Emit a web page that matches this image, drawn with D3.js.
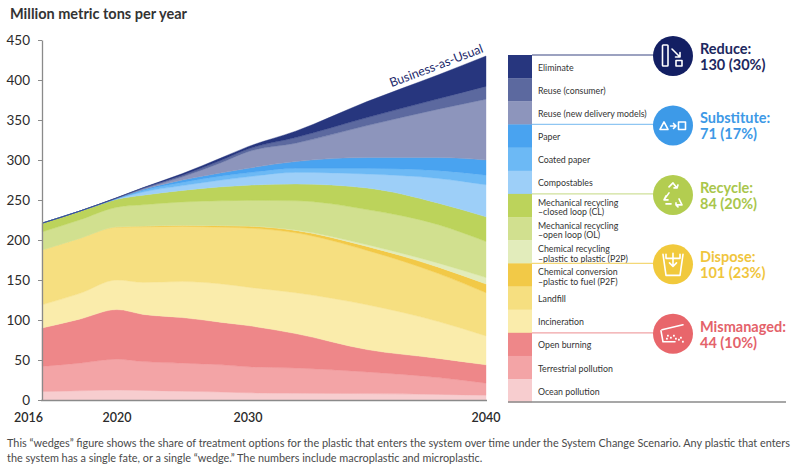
<!DOCTYPE html>
<html>
<head>
<meta charset="utf-8">
<script src="https://cdn.jsdelivr.net/npm/d3@7"></script>
<style>
  body { margin: 0; background: #fff; }
  svg { display: block; font-family: Lato, "Open Sans", sans-serif; }
</style>
</head>
<body>
<svg id="chart" width="800" height="471"></svg>
<script>
// years (axis is not evenly spaced in the original)
var years = [2016, 2018, 2020, 2022, 2025, 2028, 2030, 2032, 2035, 2038, 2040];

// million metric tons per year, per wedge (bottom to top)
var oceanPollution      = [10.5, 11.5, 12.5, 12, 11, 10, 9, 8.5, 8, 7, 6];
var terrestrialPollution= [31.5, 34.5, 38.5, 36, 35, 34, 32.5, 31.5, 27, 21, 15];
var openBurning         = [48, 55, 62, 59, 57, 53, 51.5, 43, 28, 24, 23];
var incineration        = [29, 32, 37, 40, 45, 48, 48, 51, 56, 46, 36];
var landfill            = [68.5, 69, 66, 69.5, 69, 71, 74, 75, 68, 60, 54];
var chemP2F             = [0, 0, 0.5, 1, 1.5, 2, 2.5, 3, 5, 8, 11];
var chemP2P             = [0, 0, 0, 0, 0, 0, 0, 0.5, 2, 5, 8];
var mechOL              = [22.5, 23, 24.5, 26.5, 29, 31, 32, 36.5, 44, 48, 45];
var mechCL              = [11, 11, 10, 12, 14.5, 17.5, 19, 21, 27, 27, 31];
var compostables        = [0, 0, 0.5, 4, 6, 8.5, 10.5, 14.5, 17.5, 31, 40];
var coatedPaper         = [0, 0, 0.3, 2, 4, 5, 5, 5, 7, 9.7, 12];
var paper               = [0, 0, 0.3, 1, 3, 4, 5.6, 8.5, 13.5, 16.3, 19];
var reuseNew            = [0, 0, 0.4, 1, 4, 13, 20.8, 23, 40, 60.5, 76];
var reuseConsumer       = [0, 0, 0.3, 1, 2, 3, 3.3, 7, 10, 13, 16];
var eliminate           = [0, 0, 0.2, 0.5, 2, 3, 3, 8, 20, 30, 38];

var yTicks = [0, 50, 100, 150, 200, 250, 300, 350, 400, 450];
var xTicks = [2016, 2020, 2030, 2040];

// legend, top to bottom
var legendLabels = ["Eliminate", "Reuse (consumer)", "Reuse (new delivery models)", "Paper", "Coated paper",
  "Compostables", "Mechanical recycling|–closed loop (CL)", "Mechanical recycling|–open loop (OL)",
  "Chemical recycling|–plastic to plastic (P2P)", "Chemical conversion|–plastic to fuel (P2F)",
  "Landfill", "Incineration", "Open burning", "Terrestrial pollution", "Ocean pollution"];

var groupNames = ["Reduce:", "Substitute:", "Recycle:", "Dispose:", "Mismanaged:"];
var groupValues = ["130 (30%)", "71 (17%)", "84 (20%)", "101 (23%)", "44 (10%)"];

var series = [oceanPollution, terrestrialPollution, openBurning, incineration, landfill, chemP2F, chemP2P,
  mechOL, mechCL, compostables, coatedPaper, paper, reuseNew, reuseConsumer, eliminate];
var colors = ["#f7cdcf", "#f3a4a6", "#ee8789", "#faecab", "#f6df80", "#f2c947", "#e2ecbb",
  "#d1e08f", "#bcd35b", "#9dcff8", "#6cb9f5", "#49a3f0", "#8d95bc", "#5c699f", "#27367e"];
var groupColors = ["#131f63", "#3d9ae8", "#b3cd50", "#f1c93c", "#e8666b"];
var groupText = ["#1d2860", "#3d99e6", "#a9c64b", "#f0c53d", "#e4626a"];
var lineColors = ["#3b4682", "#8fc6f2", "#cfe09a", "#f4d877", "#f0a3a6"];

var svg = d3.select("#chart");

var x = d3.scaleLinear().domain([2016, 2020, 2030, 2040]).range([42, 117, 248, 486]);
var y = d3.scaleLinear().domain([0, 450]).range([400, 40]);

var keys = series.map(function (s, i) { return "k" + i; });
var rows = years.map(function (yr, j) {
  var r = { year: yr };
  series.forEach(function (s, i) { r["k" + i] = s[j]; });
  return r;
});
var stacked = d3.stack().keys(keys)(rows);

var area = d3.area()
  .x(function (d) { return x(d.data.year); })
  .y0(function (d) { return y(d[0]); })
  .y1(function (d) { return y(d[1]); })
  .curve(d3.curveMonotoneX);

svg.append("g").selectAll("path")
  .data(stacked)
  .join("path")
  .attr("d", area)
  .attr("fill", function (d, i) { return colors[i]; })
  .attr("stroke", function (d, i) { return colors[i]; })
  .attr("stroke-width", 0.4);

// y axis
var yAxis = svg.append("g")
  .attr("transform", "translate(42,0)")
  .call(d3.axisLeft(y).tickValues(yTicks).tickSize(4).tickPadding(8).tickSizeOuter(0));
yAxis.select(".domain").attr("stroke", "#8a8a8a").attr("stroke-width", 1.3);
yAxis.selectAll(".tick line").attr("stroke", "#8a8a8a");
yAxis.selectAll("text").attr("font-size", 13.5).attr("fill", "#2b2b2b").style("font-family", "Lato, sans-serif");

// x axis
svg.append("line").attr("x1", 41).attr("x2", 487).attr("y1", 400.5).attr("y2", 400.5)
  .attr("stroke", "#8a8a8a").attr("stroke-width", 1.6);
svg.append("g").selectAll("text")
  .data(xTicks)
  .join("text")
  .attr("x", function (d) { return d == 2016 ? x(d) + 1 : x(d); })
  .attr("y", 422)
  .attr("text-anchor", function (d) { return d == 2016 ? "end" : "middle"; })
  .attr("font-size", 12.5)
  .attr("font-weight", 600)
  .attr("fill", "#2b2b2b")
  .text(function (d) { return d; });

// title
svg.append("text").attr("x", 10).attr("y", 18.5)
  .attr("font-size", 14.5).attr("font-weight", "bold").attr("fill", "#333")
  .text("Million metric tons per year");

// Business-as-Usual label along the top edge
var last = stacked[stacked.length - 1];
var p1 = [x(2030), y(last[6][1])], p2 = [x(2040), y(last[10][1])];
var ang = Math.atan2(p2[1] - p1[1], p2[0] - p1[0]) * 180 / Math.PI;
svg.append("text")
  .attr("transform", "translate(" + (p2[0] - 2) + "," + (p2[1] - 4) + ") rotate(" + ang + ")")
  .attr("text-anchor", "end")
  .attr("font-size", 12.5)
  .attr("fill", "#1d2a6b")
  .text("Business-as-Usual");

// legend
var legTop = 55, rowH = 23.15;
var leg = svg.append("g");
leg.selectAll("rect")
  .data(legendLabels)
  .join("rect")
  .attr("x", 508).attr("width", 24)
  .attr("y", function (d, i) { return legTop + i * rowH; })
  .attr("height", rowH + 0.3)
  .attr("fill", function (d, i) { return colors[colors.length - 1 - i]; });

leg.selectAll("text")
  .data(legendLabels)
  .join("text")
  .attr("font-size", 8.8)
  .attr("fill", "#333")
  .each(function (d, i) {
    var t = d3.select(this);
    var parts = d.split("|");
    var cy = legTop + i * rowH + rowH / 2;
    if (parts.length == 1) {
      t.append("tspan").attr("x", 538).attr("y", cy + 4).text(parts[0]);
    } else {
      t.append("tspan").attr("x", 538).attr("y", cy + 0.2).text(parts[0]);
      t.append("tspan").attr("x", 538).attr("y", cy + 9.8).text(parts[1]);
    }
  });

svg.append("line").attr("x1", 508).attr("x2", 786).attr("y1", 402).attr("y2", 402)
  .attr("stroke", "#8a8a8a").attr("stroke-width", 1.6);

// group markers
var cx = 673;
groupNames.forEach(function (name, gi) {
  var gy = legTop + gi * 3 * rowH;
  svg.append("line").attr("x1", 532).attr("x2", cx).attr("y1", gy).attr("y2", gy)
    .attr("stroke", lineColors[gi]).attr("stroke-width", 1.2);
  var cyy = gy + 1;
  var g = svg.append("g").attr("transform", "translate(" + cx + "," + cyy + ")");
  g.append("circle").attr("r", 20).attr("fill", groupColors[gi]);
  var ic = g.append("g").attr("fill", "none").attr("stroke", "#fff").attr("stroke-width", 1.6)
    .attr("stroke-linecap", "round").attr("stroke-linejoin", "round");
  if (gi == 0) {
    ic.append("rect").attr("x", -10.5).attr("y", -11).attr("width", 5.5).attr("height", 21).attr("rx", 0.8);
    ic.append("path").attr("d", "M-1,-7 L7,1 M7,-3.5 L7,1 L2.5,1");
    ic.append("rect").attr("x", 3).attr("y", 4.5).attr("width", 6).attr("height", 5.5);
  } else if (gi == 1) {
    ic.append("path").attr("d", "M-13,4 L-9,-3.5 L-5,4 Z");
    ic.append("path").attr("d", "M-2.5,0.5 L3,0.5 M0.5,-2 L3,0.5 L0.5,3");
    ic.append("rect").attr("x", 5.5).attr("y", -3.5).attr("width", 7).attr("height", 7.5);
  } else if (gi == 2) {
    ic.append("path").attr("d", "M-4,-8 L0,-12 L4,-7 M1,-7 L4,-7 L5,-10");
    ic.append("path").attr("d", "M-4,-2 L-9,5 L-5,5 M-7,1 L-9,5");
    ic.append("path").attr("d", "M-7,9 L-2,9");
    ic.append("path").attr("d", "M3,10 L9,10 L6,4 M3,8 L3,10 L5,12");
  } else if (gi == 3) {
    ic.append("path").attr("d", "M-10,-10 L-7,11 L7,11 L10,-10");
    ic.append("path").attr("d", "M-7,-10 L-7,-6 L7,-6 L7,-10");
    ic.append("path").attr("d", "M0,-11 L0,2 M-3.5,-1.5 L0,2 L3.5,-1.5");
  } else {
    ic.append("path").attr("d", "M-12,-3 L-10,8 L2,8");
    ic.append("path").attr("d", "M-11,-4 L10,-9");
    ic.append("g").attr("fill", "#fff").attr("stroke", "none").selectAll("rect")
      .data([[-6, 1], [-3, 3], [0, 1], [2, 4], [5, 5], [7, 3], [9, 7], [-7, 4]])
      .join("rect").attr("x", function (d) { return d[0]; }).attr("y", function (d) { return d[1]; })
      .attr("width", 1.8).attr("height", 1.8);
  }
  svg.append("text").attr("x", 700).attr("y", cyy - 2)
    .attr("font-size", 14.5).attr("font-weight", "bold").attr("fill", groupText[gi]).text(name);
  svg.append("text").attr("x", 700).attr("y", cyy + 14)
    .attr("font-size", 14.5).attr("font-weight", "bold").attr("fill", groupText[gi]).text(groupValues[gi]);
});

// footnote
var note1 = "This “wedges” figure shows the share of treatment options for the plastic that enters the system over time under the System Change Scenario. Any plastic that enters";
var note2 = "the system has a single fate, or a single “wedge.” The numbers include macroplastic and microplastic.";
var n1 = svg.append("text").attr("x", 7).attr("y", 447).attr("font-size", 10.5).attr("fill", "#4a4a4a").text(note1);
var n2 = svg.append("text").attr("x", 7).attr("y", 462).attr("font-size", 10.5).attr("fill", "#4a4a4a").text(note2);
var w1 = n1.node().getComputedTextLength();
var k = 783 / w1;
n1.attr("textLength", 783).attr("lengthAdjust", "spacingAndGlyphs");
n2.attr("textLength", n2.node().getComputedTextLength() * k).attr("lengthAdjust", "spacingAndGlyphs");
</script>
</body>
</html>
